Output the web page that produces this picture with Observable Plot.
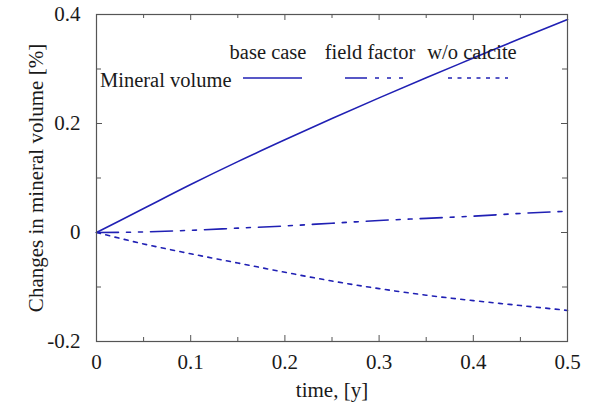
<!DOCTYPE html>
<html>
<head>
<meta charset="utf-8">
<script src="https://cdn.jsdelivr.net/npm/d3@7"></script>
<script src="https://cdn.jsdelivr.net/npm/@observablehq/plot@0.6"></script>
<style>
  html, body { margin: 0; padding: 0; background: #fff; }
</style>
</head>
<body>
<div id="chart"></div>
<script>
// ---- data ----
const times = [0, 0.05, 0.1, 0.15, 0.2, 0.25, 0.3, 0.35, 0.4, 0.45, 0.5];
const baseCase = [0, 0.044, 0.088, 0.130, 0.170, 0.209, 0.247, 0.284, 0.320, 0.356, 0.391];
const fieldFactor = [0, 0.001, 0.004, 0.008, 0.012, 0.017, 0.022, 0.026, 0.030, 0.035, 0.039];
const woCalcite = [0, -0.021, -0.039, -0.056, -0.073, -0.089, -0.103, -0.115, -0.125, -0.134, -0.143];
const seriesNames = ["base case", "field factor", "w/o calcite"];
const legendTitle = "Mineral volume";
const xTicks = [0, 0.1, 0.2, 0.3, 0.4, 0.5];
const xMinorTicks = [0.05, 0.15, 0.25, 0.35, 0.45];
const yTicks = [-0.2, 0, 0.2, 0.4];
const yMinorTicks = [-0.1, 0.1, 0.3];
const xLabel = "time, [y]";
const yLabel = "Changes in mineral volume [%]";

// ---- styles ----
const lineColor = "#2020b4";
const frameColor = "#555";
const textColor = "#1a1a1a";
const font = "'Liberation Serif', 'DejaVu Serif', serif";
const dashes = [null, "22,8,4,8,4,8", "4,5.5"];
const seriesValues = [baseCase, fieldFactor, woCalcite];

const rows = [];
seriesNames.forEach((name, i) => {
  times.forEach((t, j) => rows.push({series: name, t, v: seriesValues[i][j]}));
});

const W = 597, H = 411;
const mL = 96, mR = 30, mT = 14, mB = 70;
const frameW = W - mL - mR, frameH = H - mT - mB;
const fmt = d => String(+d.toFixed(2));

const legend = (index, scales, values, dimensions) => {
  const g = d3.create("svg:g")
    .attr("font-family", font)
    .attr("font-size", 20.5)
    .attr("fill", textColor);
  const L = dimensions.marginLeft, T = dimensions.marginTop;
  const headerX = [172, 274, 376];
  const sampleX = [[147, 206], [249, 307], [352, 412]];
  seriesNames.forEach((name, i) => {
    g.append("text")
      .attr("x", L + headerX[i]).attr("y", T + 38)
      .attr("text-anchor", "middle").attr("dy", "0.35em")
      .text(name);
    g.append("line")
      .attr("x1", L + sampleX[i][0]).attr("x2", L + sampleX[i][1])
      .attr("y1", T + 64).attr("y2", T + 64)
      .attr("stroke", lineColor).attr("stroke-width", 1.6)
      .attr("stroke-dasharray", dashes[i]);
  });
  g.append("text")
    .attr("x", L + 4).attr("y", T + 66)
    .attr("text-anchor", "start")
    .attr("dy", "0.35em")
    .text(legendTitle);
  return g.node();
};

const chart = Plot.plot({
  width: W,
  height: H,
  marginLeft: mL,
  marginRight: mR,
  marginTop: mT,
  marginBottom: mB,
  style: {fontFamily: font, fontSize: "21px", color: textColor, background: "#fff"},
  x: {domain: [0, 0.5], label: null},
  y: {domain: [-0.2, 0.4], label: null},
  marks: [
    // inward ticks on all four sides
    Plot.tickX(xTicks, {x: d => d, insetTop: frameH - 6, stroke: frameColor}),
    Plot.tickX(xTicks, {x: d => d, insetBottom: frameH - 6, stroke: frameColor}),
    Plot.tickX(xMinorTicks, {x: d => d, insetTop: frameH - 4, stroke: frameColor}),
    Plot.tickX(xMinorTicks, {x: d => d, insetBottom: frameH - 4, stroke: frameColor}),
    Plot.tickY(yTicks, {y: d => d, insetLeft: frameW - 6, stroke: frameColor}),
    Plot.tickY(yTicks, {y: d => d, insetRight: frameW - 6, stroke: frameColor}),
    Plot.tickY(yMinorTicks, {y: d => d, insetLeft: frameW - 5, stroke: frameColor}),
    Plot.tickY(yMinorTicks, {y: d => d, insetRight: frameW - 5, stroke: frameColor}),
    Plot.axisX(xTicks, {anchor: "bottom", tickSize: 0, tickPadding: 13, tickFormat: fmt, label: null, fill: textColor}),
    Plot.axisY(yTicks, {anchor: "left", tickSize: 0, tickPadding: 16, tickFormat: fmt, label: null, fill: textColor}),
    Plot.text([xLabel], {text: d => d, frameAnchor: "bottom", dy: 55, fill: textColor}),
    Plot.text([yLabel], {text: d => d, frameAnchor: "left", textAnchor: "middle", dx: -60, rotate: -90, fill: textColor}),
    ...seriesNames.map((name, i) =>
      Plot.line(rows.filter(r => r.series === name), {
        x: "t", y: "v", stroke: lineColor, strokeWidth: 1.6,
        strokeDasharray: dashes[i], curve: "monotone-x"
      })
    ),
    legend,
    Plot.frame({stroke: frameColor, strokeWidth: 1.2})
  ]
});
document.getElementById("chart").appendChild(chart);
</script>
</body>
</html>
